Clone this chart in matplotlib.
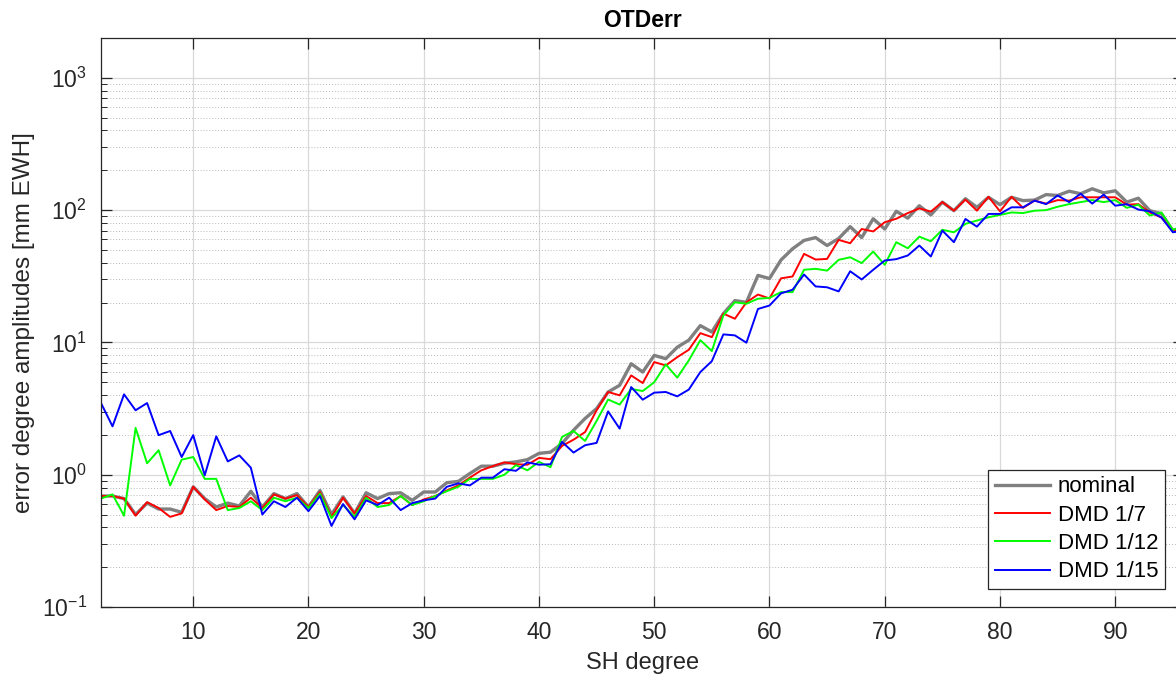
import numpy as np
import matplotlib.pyplot as plt
from matplotlib.ticker import LogLocator, NullFormatter, MultipleLocator

plt.rcParams['font.family'] = ['Liberation Sans', 'DejaVu Sans']

# SH degrees 2..96
degree = np.arange(2, 97)

nominal = [0.69, 0.69, 0.66, 0.50, 0.61, 0.55, 0.55, 0.52, 0.81, 0.66,
           0.57, 0.61, 0.58, 0.75, 0.57, 0.72, 0.66, 0.72, 0.57, 0.76,
           0.50, 0.68, 0.51, 0.73, 0.66, 0.72, 0.73, 0.64, 0.74, 0.74,
           0.87, 0.89, 1.02, 1.16, 1.16, 1.22, 1.25, 1.30, 1.45, 1.48,
           1.72, 2.17, 2.66, 3.16, 4.22, 4.74, 6.9, 5.97, 7.98, 7.53,
           9.2, 10.4, 13.4, 12.0, 16.5, 20.7, 20.1, 32.1, 30.4, 42,
           51, 59, 62, 54, 61, 75, 62, 86, 72, 98,
           87, 108, 92, 115, 99, 122, 105, 125, 110, 125,
           118, 119, 131, 129, 139, 133, 145, 135, 140, 115,
           123, 99, 94, 70, 72]

dmd_7 = [0.69, 0.69, 0.66, 0.49, 0.62, 0.56, 0.48, 0.51, 0.81, 0.65,
         0.54, 0.58, 0.57, 0.67, 0.56, 0.71, 0.66, 0.70, 0.57, 0.74,
         0.48, 0.67, 0.51, 0.69, 0.61, 0.61, 0.69, 0.59, 0.65, 0.69,
         0.76, 0.83, 0.95, 1.08, 1.16, 1.24, 1.20, 1.19, 1.34, 1.31,
         1.65, 1.84, 2.10, 3.07, 4.22, 3.98, 5.63, 4.93, 7.1, 6.7,
         7.74, 8.8, 11.75, 10.96, 16.5, 15.1, 20.1, 23.0, 21.5, 30.5,
         31.5, 46.7, 42.3, 42.8, 59.6, 56.2, 72, 69, 81, 86,
         95, 103, 97.5, 115, 99, 120, 99, 126, 98, 126,
         104, 118, 112, 119, 118, 125, 125, 125, 125, 110,
         111, 96, 88, 71, 70]

dmd_12 = [0.66, 0.71, 0.49, 2.26, 1.22, 1.53, 0.83, 1.30, 1.36, 0.93,
          0.93, 0.54, 0.56, 0.63, 0.54, 0.67, 0.63, 0.67, 0.56, 0.72,
          0.47, 0.59, 0.48, 0.67, 0.57, 0.59, 0.69, 0.59, 0.63, 0.69,
          0.75, 0.81, 0.93, 0.93, 0.93, 1.0, 1.18, 1.08, 1.25, 1.14,
          1.93, 2.14, 1.80, 2.55, 3.70, 3.39, 4.45, 4.29, 5.0, 6.82,
          5.42, 7.31, 10.4, 8.6, 16.0, 20.1, 19.6, 21.4, 21.7, 24,
          24, 35.4, 36, 34.9, 42.1, 44, 39.8, 48.6, 38.6, 57.2,
          51.5, 63, 58.2, 71, 68, 78.7, 83.4, 88.3, 92, 96,
          95, 99, 100, 106, 111, 115, 119, 115, 119, 104,
          110, 91, 96, 71, 76]

dmd_15 = [3.48, 2.32, 4.05, 3.07, 3.48, 1.99, 2.14, 1.36, 1.99, 0.99,
          1.95, 1.26, 1.40, 1.13, 0.50, 0.63, 0.57, 0.67, 0.53, 0.69,
          0.41, 0.60, 0.46, 0.64, 0.59, 0.67, 0.54, 0.61, 0.64, 0.66,
          0.81, 0.86, 0.83, 0.95, 0.95, 1.10, 1.07, 1.24, 1.19, 1.20,
          1.77, 1.47, 1.67, 1.74, 3.01, 2.23, 4.6, 3.69, 4.17, 4.22,
          3.91, 4.40, 5.97, 7.22, 11.5, 11.3, 9.95, 17.9, 19.0, 23.5,
          25, 32.6, 26.5, 26.1, 24.3, 34.5, 29.9, 35.4, 41.6, 42.6,
          45.4, 54, 44.6, 70, 57.2, 85.7, 75, 93.6, 93.6, 105,
          105, 118, 111, 129, 115, 133, 112, 131, 108, 111,
          101, 98, 88, 68, 70]

series = [
    ('nominal', nominal, (0.5, 0.5, 0.5), 2.4),
    ('DMD 1/7', dmd_7, (1, 0, 0), 1.4),
    ('DMD 1/12', dmd_12, (0, 1, 0), 1.4),
    ('DMD 1/15', dmd_15, (0, 0, 1), 1.4),
]

dark = (0.15, 0.15, 0.15)

fig = plt.figure(figsize=(11.76, 6.86), dpi=100)
# axes runs slightly past the right edge of the figure
ax = fig.add_axes([101 / 1176, 79 / 686, 1083.4 / 1176, 569 / 686])

for name, vals, color, lw in series:
    ax.plot(degree, vals, color=color, lw=lw, label=name)

ax.set_yscale('log')
ax.set_xlim(2, 96)
ax.set_ylim(0.1, 2000)
ax.xaxis.set_major_locator(MultipleLocator(10))
ax.yaxis.set_major_locator(LogLocator(base=10, numticks=10))
ax.yaxis.set_minor_locator(LogLocator(base=10, subs=np.arange(2, 10), numticks=20))
ax.yaxis.set_minor_formatter(NullFormatter())

ax.grid(True, which='major', color=(0.85, 0.85, 0.85), lw=0.9)
ax.grid(True, which='minor', axis='y', color=(0.72, 0.72, 0.72), lw=0.7, ls=(0, (1, 2)))
ax.set_axisbelow(True)

ax.tick_params(which='both', direction='in', top=True, right=True,
               color=dark, labelsize=16.5, labelcolor=dark)
ax.tick_params(which='major', length=8, width=0.9, pad=10)
ax.tick_params(which='minor', length=4, width=0.7)
for sp in ax.spines.values():
    sp.set_color(dark)
    sp.set_linewidth(0.9)

ax.set_title('OTDerr', fontsize=16.5, fontweight='bold', pad=8)
ax.set_xlabel('SH degree', fontsize=17, color=dark, labelpad=6)
ax.set_ylabel('error degree amplitudes [mm EWH]', fontsize=17.5,
              color=dark, labelpad=5)

leg = ax.legend(loc='lower right', bbox_to_anchor=(1165 / 1176, 97 / 686),
                bbox_transform=fig.transFigure, borderaxespad=0,
                fontsize=16, frameon=True, fancybox=False, framealpha=1,
                handlelength=2.5, handletextpad=0.35, labelspacing=0.33,
                borderpad=0.3)
leg.get_frame().set_edgecolor(dark)
leg.get_frame().set_linewidth(0.9)

fig.savefig('out.png', dpi=100)
